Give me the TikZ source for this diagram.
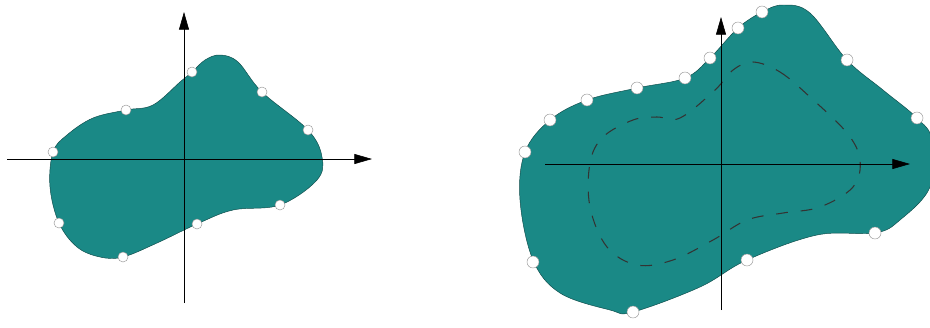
\documentclass[tikz,border=0pt]{standalone}
\usetikzlibrary{arrows.meta}
\begin{document}
\begin{tikzpicture}[x=0.03cm,y=-0.03cm]
  \definecolor{blob}{HTML}{1A8986}
  \tikzset{knot/.style={circle,draw=black!40,fill=white,line width=.4pt,minimum size=.3cm,inner sep=0pt},
    bigknot/.style={knot,minimum size=.36cm},
    axis/.style={line width=.5pt,-{Triangle[length=15pt,width=8.5pt]}},
    region/.style={fill=blob,draw=blob!55!black,line width=.4pt}}
  \useasboundingbox (0,0) rectangle (930,327);

  % Left: the starting domain with its knots.
  \path[region] plot[smooth cycle,tension=.6] coordinates {(220,55) (238,62) (262,92) (308,130) (322,157)
    (317,180) (280,205) (233,210) (197,224) (157,243) (123,257) (100,257) (77,247) (59,223) (50,187)
    (53,152) (67,135) (93,118) (126,110) (153,105) (180,82) (192,72) (205,60)};
  \coordinate (lx0) at (7,159);
  \coordinate (lx1) at (372,159);
  \coordinate (ly0) at (184,303);
  \coordinate (ly1) at (184,12);
  \draw[axis] (lx0) -- (lx1);
  \draw[axis] (ly0) -- (ly1);
  \foreach \p [count=\i] in {(192,72),(262,92),(308,130),(280,205),(197,224),(123,257),(59,223),(53,152),(126,110)}
    \node[knot] (l\i) at \p {};

  % Right: the grown domain, old boundary dashed.
  \path[region] plot[smooth cycle,tension=.6] coordinates {(783,5) (810,13) (847,60) (883,90) (917,118)
    (932,140) (930,187) (900,220) (875,233) (817,235) (747,260) (700,287) (633,312) (610,310) (560,293)
    (533,260) (520,200) (525,152) (550,120) (587,100) (637,88) (685,78) (710,58) (738,28) (762,12)};
  \draw[black!80,line width=.9pt,dash pattern=on 10pt off 11pt] plot[smooth cycle,tension=.6] coordinates {
    (753,62) (780,72) (810,97) (847,133) (860,160) (853,187) (820,207) (783,213) (747,220) (713,240)
    (673,260) (637,265) (607,247) (590,207) (590,163) (603,137) (633,120) (657,117) (680,118) (715,90) (733,70)};
  \coordinate (rx0) at (545,164);
  \coordinate (rx1) at (910,164);
  \coordinate (ry0) at (721,310);
  \coordinate (ry1) at (721,17);
  \draw[axis] (rx0) -- (rx1);
  \draw[axis] (ry0) -- (ry1);
  \foreach \p [count=\i] in {(762,12),(738,28),(710,58),(685,78),(637,88),(587,100),(550,120),(525,152),
    (533,262),(633,312),(747,260),(875,233),(917,118),(847,60)}
    \node[bigknot] (r\i) at \p {};
\end{tikzpicture}
\end{document}
